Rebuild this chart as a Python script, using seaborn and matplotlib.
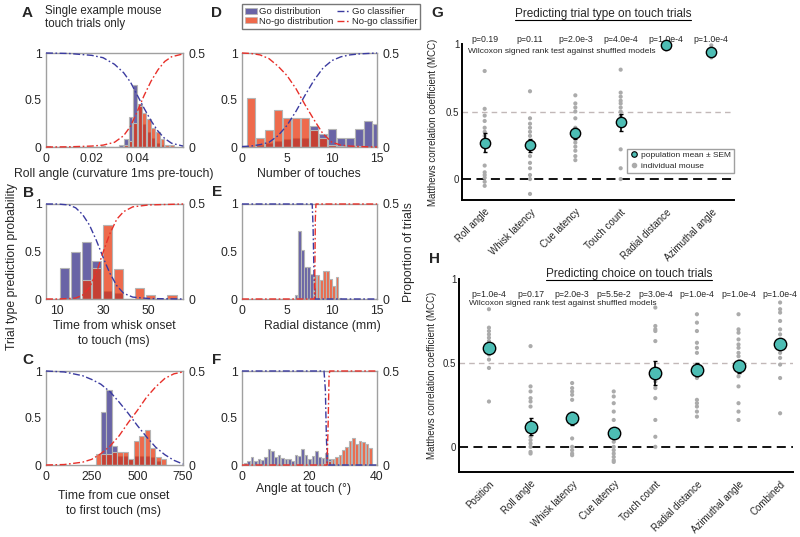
import numpy as np
import pandas as pd
import matplotlib
matplotlib.use("Agg")
import matplotlib.pyplot as plt
import seaborn as sns
from matplotlib.lines import Line2D
from matplotlib.patches import Patch

# ---------------- data ----------------
# Panel A: roll angle
A_centers = [0.001, 0.003, 0.005, 0.007, 0.009, 0.011, 0.013, 0.015, 0.017, 0.019, 0.021, 0.023,
             0.025, 0.027, 0.029, 0.031, 0.033, 0.035, 0.037, 0.039, 0.041, 0.043, 0.045, 0.047,
             0.049, 0.051, 0.053, 0.055]
A_go = [0, 0, 0, 0, 0, 0, 0, 0, 0, 0, 0, 0,
        0.005, 0, 0, 0, 0.01, 0.04, 0.16, 0.33, 0.23, 0.12, 0.08, 0.05,
        0.02, 0.01, 0, 0]
A_nogo = [0.005, 0, 0, 0, 0, 0, 0, 0, 0, 0, 0, 0,
          0, 0, 0, 0, 0, 0.01, 0.03, 0.13, 0.22, 0.18, 0.15, 0.10,
          0.08, 0.04, 0.01, 0.01]
A_curve_x = [0, 0.01, 0.02, 0.025, 0.03, 0.034, 0.037, 0.040, 0.043, 0.046, 0.049, 0.052, 0.055, 0.06]
A_go_prob = [1.0, 0.995, 0.975, 0.95, 0.88, 0.79, 0.69, 0.55, 0.41, 0.28, 0.17, 0.09, 0.04, 0.01]
A_nogo_prob = [0.0, 0.002, 0.01, 0.02, 0.05, 0.12, 0.22, 0.38, 0.55, 0.70, 0.82, 0.91, 0.96, 0.99]

# Panel B: whisk latency
B_centers = [13.2, 17.9, 22.6, 27.3, 32.0, 36.7, 41.4, 46.1, 50.8, 55.5, 60.2]
B_go = [0.165, 0.25, 0.30, 0.20, 0.04, 0.03, 0, 0, 0, 0, 0]
B_nogo = [0, 0, 0.10, 0.165, 0.39, 0.16, 0, 0.06, 0.02, 0, 0.02]
B_curve_x = [5, 10, 15, 18, 21, 24, 27, 29, 31, 33, 36, 39, 43, 50, 65]
B_go_prob = [1.0, 1.0, 0.99, 0.96, 0.89, 0.78, 0.62, 0.50, 0.38, 0.27, 0.14, 0.06, 0.02, 0.005, 0.0]
B_nogo_prob = [0.0, 0.0, 0.005, 0.01, 0.04, 0.12, 0.27, 0.42, 0.56, 0.69, 0.84, 0.92, 0.97, 0.99, 1.0]

# Panel C: cue latency
C_centers = [285, 315, 345, 375, 405, 435, 465, 495, 525, 555, 585, 615, 645]
C_go = [0, 0.28, 0.40, 0.10, 0.05, 0.05, 0.03, 0.05, 0.05, 0.05, 0.04, 0.02, 0]
C_nogo = [0.06, 0.06, 0.06, 0.07, 0.07, 0.07, 0.03, 0.13, 0.155, 0.185, 0.09, 0.045, 0.03]
C_curve_x = [0, 100, 200, 250, 300, 350, 400, 450, 500, 550, 600, 650, 700, 750]
C_go_prob = [1.0, 0.99, 0.95, 0.91, 0.86, 0.78, 0.67, 0.55, 0.42, 0.30, 0.19, 0.11, 0.05, 0.01]
C_nogo_prob = [0.0, 0.005, 0.03, 0.06, 0.12, 0.20, 0.31, 0.45, 0.58, 0.72, 0.83, 0.92, 0.97, 0.99]

# Panel D: number of touches
D_centers = [1, 2, 3, 4, 5, 6, 7, 8, 9, 10, 11, 12, 13, 14, 15]
D_go = [0, 0.01, 0.02, 0.03, 0.045, 0.05, 0.05, 0.11, 0.07, 0.095, 0.05, 0.05, 0.095, 0.14, 0.12]
D_nogo = [0.26, 0.05, 0.09, 0.195, 0.155, 0.155, 0.155, 0.09, 0.05, 0.01, 0.005, 0, 0.005, 0, 0]
D_curve_x = [0, 1, 2, 3, 4, 5, 6, 7, 8, 9, 10, 11, 12, 13, 14, 15]
D_go_prob = [0.005, 0.01, 0.025, 0.05, 0.12, 0.23, 0.38, 0.55, 0.71, 0.84, 0.92, 0.96, 0.98, 0.99, 0.995, 1.0]
D_nogo_prob = [1.0, 0.995, 0.98, 0.94, 0.86, 0.76, 0.62, 0.45, 0.29, 0.14, 0.05, 0.02, 0.01, 0.005, 0.002, 0.0]

# Panel E: radial distance
E_centers = [6.0, 6.35, 6.7, 7.05, 7.4, 7.75, 8.1, 8.45, 8.8, 9.15, 9.5, 9.85, 10.2, 10.55, 10.9]
E_go = [0.02, 0.36, 0.26, 0.17, 0.17, 0.13, 0.06, 0, 0, 0, 0, 0, 0, 0, 0]
E_nogo = [0, 0, 0, 0, 0, 0, 0.125, 0.125, 0.10, 0.145, 0.148, 0.105, 0.07, 0.115, 0.005]
E_go_x = [0, 7.8, 7.9, 8.0, 8.1, 15]
E_go_prob = [1.0, 1.0, 0.75, 0.25, 0.0, 0.0]
E_nogo_x = [0, 8.05, 8.1, 8.15, 8.22, 15]
E_nogo_prob = [0.0, 0.0, 0.35, 0.85, 1.0, 1.0]

# Panel F: azimuthal angle at touch
F_centers = list(range(1, 41))
F_go = [0.01, 0.02, 0.04, 0.02, 0.03, 0.025, 0.045, 0.085, 0.075, 0.04,
        0.055, 0.035, 0.03, 0.03, 0.02, 0.055, 0.05, 0.085, 0.055, 0.03,
        0.05, 0.075, 0.045, 0.035, 0.065, 0.03, 0.01, 0, 0, 0,
        0, 0, 0, 0, 0, 0, 0, 0, 0, 0]
F_nogo = [0, 0, 0, 0, 0, 0, 0, 0, 0, 0,
          0, 0, 0, 0, 0, 0, 0, 0, 0, 0,
          0, 0, 0, 0.005, 0.01, 0.02, 0.03, 0.04, 0.055, 0.08,
          0.095, 0.13, 0.145, 0.11, 0.13, 0.12, 0.11, 0.09, 0, 0.007]
F_go_x = [0, 24.3, 24.7, 25.0, 25.3, 40]
F_go_prob = [1.0, 1.0, 0.8, 0.3, 0.0, 0.0]
F_nogo_x = [0, 25.2, 25.5, 25.8, 26.0, 40]
F_nogo_prob = [0.0, 0.0, 0.4, 0.95, 1.0, 1.0]

# Panel G: predicting trial type
G_features = ["Roll angle", "Whisk latency", "Cue latency", "Touch count",
              "Radial distance", "Azimuthal angle"]
G_mean = [0.27, 0.25, 0.34, 0.42, 0.99, 0.94]
G_sem = [0.07, 0.05, 0.04, 0.065, 0.01, 0.015]
G_pvals = ["p=0.19", "p=0.11", "p=2.0e-3", "p=4.0e-4", "p=1.0e-4", "p=1.0e-4"]
G_roll = [0.80, 0.52, 0.47, 0.43, 0.38, 0.35, 0.32, 0.28, 0.10, 0.05, 0.03, 0.01, -0.02, -0.05]
G_whisk = [0.65, 0.45, 0.41, 0.38, 0.35, 0.32, 0.28, 0.22, 0.17, 0.12, 0.08, 0.03, 0.0, -0.11]
G_cue = [0.62, 0.56, 0.53, 0.50, 0.45, 0.38, 0.34, 0.30, 0.27, 0.24, 0.21, 0.17, 0.14]
G_touch = [0.81, 0.64, 0.61, 0.58, 0.56, 0.53, 0.50, 0.47, 0.44, 0.22, 0.08, 0.0]
G_radial = [1.0, 0.99, 0.98, 0.97, 0.97, 0.96]
G_azim = [0.99, 0.97, 0.96, 0.95, 0.94, 0.93, 0.92, 0.91, 0.90]

# Panel H: predicting choice
H_features = ["Position", "Roll angle", "Whisk latency", "Cue latency", "Touch count",
              "Radial distance", "Azimuthal angle", "Combined"]
H_mean = [0.59, 0.12, 0.17, 0.08, 0.44, 0.46, 0.48, 0.61]
H_sem = [0.03, 0.05, 0.04, 0.03, 0.07, 0.04, 0.04, 0.03]
H_pvals = ["p=1.0e-4", "p=0.17", "p=2.0e-3", "p=5.5e-2", "p=3.0e-4", "p=1.0e-4", "p=1.0e-4", "p=1.0e-4"]
H_position = [0.82, 0.71, 0.69, 0.67, 0.65, 0.63, 0.61, 0.58, 0.55, 0.52, 0.47, 0.27]
H_roll = [0.60, 0.36, 0.33, 0.29, 0.27, 0.24, 0.06, 0.04, 0.02, 0.0, -0.03, -0.04]
H_whisk = [0.38, 0.35, 0.33, 0.31, 0.28, 0.05, 0.0, -0.02, -0.04, -0.05]
H_cue = [0.33, 0.30, 0.26, 0.21, 0.16, 0.03, 0.0, -0.02, -0.04, -0.06, -0.08, -0.09]
H_touch = [0.83, 0.72, 0.70, 0.69, 0.63, 0.39, 0.35, 0.29, 0.16, 0.06, 0.0]
H_radial = [0.79, 0.74, 0.69, 0.62, 0.59, 0.56, 0.41, 0.28, 0.26, 0.24, 0.21, 0.18]
H_azim = [0.79, 0.70, 0.68, 0.64, 0.61, 0.59, 0.56, 0.54, 0.50, 0.42, 0.36, 0.26, 0.21, 0.16]
H_combined = [0.86, 0.82, 0.80, 0.75, 0.70, 0.67, 0.56, 0.53, 0.49, 0.41, 0.20]

# ---------------- style ----------------
sns.set_theme(style="white")
plt.rcParams["font.family"] = ["Liberation Sans", "DejaVu Sans"]

GO_BAR = "#6964A6"
NOGO_BAR = "#E8330A"
NOGO_ALPHA = 0.73
GO_LINE = "#3B3BA0"
NOGO_LINE = "#E8302A"
BAR_EDGE = "#B5B5B5"
SPINE = "#A0A0A0"
TEAL = "#4DBDB4"
GRAY_PT = "#ABABAB"
DASHDOT = (0, (5, 1.8, 1.2, 1.8))
FS = 8.8

W, H = 800, 537
fig = plt.figure(figsize=(W / 100, H / 100), dpi=100)


def add_ax(x0, y0, x1, y1):
    return fig.add_axes([x0 / W, 1 - y1 / H, (x1 - x0) / W, (y1 - y0) / H])


def ftext(x, y, s, **kw):
    return fig.text(x / W, 1 - y / H, s, **kw)


def left_panel(box, centers, width, go_h, nogo_h, shrink, go_x, go_p, ng_x, ng_p,
               xlim, xticks, xticklabels):
    ax = add_ax(*box)
    ax2 = ax.twinx()
    lo = centers[0] - width / 2
    hi = centers[-1] + width / 2
    dist = pd.DataFrame({"value": centers, "go": go_h, "nogo": nogo_h})
    sns.histplot(data=dist, x="value", weights="go", binwidth=width, binrange=(lo, hi),
                 shrink=shrink, color=GO_BAR, alpha=1.0, edgecolor=BAR_EDGE,
                 linewidth=0.8, ax=ax)
    sns.histplot(data=dist, x="value", weights="nogo", binwidth=width, binrange=(lo, hi),
                 shrink=shrink, color=NOGO_BAR, alpha=NOGO_ALPHA, edgecolor=BAR_EDGE,
                 linewidth=0.8, ax=ax)
    sns.lineplot(x=go_x, y=go_p, color=GO_LINE, lw=1.0, linestyle=DASHDOT,
                 estimator=None, sort=False, clip_on=False, ax=ax2)
    sns.lineplot(x=ng_x, y=ng_p, color=NOGO_LINE, lw=1.0, linestyle=DASHDOT,
                 estimator=None, sort=False, clip_on=False, ax=ax2)
    ax.set_ylim(0, 0.5)
    ax2.set_ylim(0, 1)
    ax.set_xlim(*xlim)
    ax.yaxis.tick_right()
    ax.yaxis.set_label_position("right")
    ax2.yaxis.tick_left()
    ax2.yaxis.set_label_position("left")
    ax.set_yticks([0, 0.5])
    ax.set_yticklabels(["0", "0.5"])
    ax2.set_yticks([0, 0.5, 1])
    ax2.set_yticklabels(["0", "0.5", "1"])
    ax.set_xticks(xticks)
    ax.set_xticklabels(xticklabels)
    for a in (ax, ax2):
        a.set_xlabel("")
        a.set_ylabel("")
    ax.tick_params(axis="x", length=0, labelsize=FS, pad=4.5)
    ax.tick_params(axis="y", length=0, labelsize=FS, pad=4)
    ax2.tick_params(axis="y", length=0, labelsize=FS, pad=3)
    for s in ax.spines.values():
        s.set_color(SPINE)
        s.set_linewidth(1.0)
    for s in ax2.spines.values():
        s.set_visible(False)
    return ax


col1 = (46, 183)
col2 = (242, 377)
row1 = (53, 147)
row2 = (204, 299)
row3 = (371, 465)

left_panel((col1[0], row1[0], col1[1], row1[1]), A_centers, 0.002, A_go, A_nogo, 0.85,
           A_curve_x, A_go_prob, A_curve_x, A_nogo_prob,
           (0, 0.06), [0, 0.02, 0.04], ["0", "0.02", "0.04"])
left_panel((col1[0], row2[0], col1[1], row2[1]), B_centers, 4.7, B_go, B_nogo, 0.85,
           B_curve_x, B_go_prob, B_curve_x, B_nogo_prob,
           (5, 65), [10, 30, 50], ["10", "30", "50"])
left_panel((col1[0], row3[0], col1[1], row3[1]), C_centers, 30, C_go, C_nogo, 0.92,
           C_curve_x, C_go_prob, C_curve_x, C_nogo_prob,
           (0, 750), [0, 250, 500, 750], ["0", "250", "500", "750"])
left_panel((col2[0], row1[0], col2[1], row1[1]), D_centers, 1, D_go, D_nogo, 0.82,
           D_curve_x, D_go_prob, D_curve_x, D_nogo_prob,
           (0, 15), [0, 5, 10, 15], ["0", "5", "10", "15"])
left_panel((col2[0], row2[0], col2[1], row2[1]), E_centers, 0.35, E_go, E_nogo, 0.88,
           E_go_x, E_go_prob, E_nogo_x, E_nogo_prob,
           (0, 15), [0, 5, 10, 15], ["0", "5", "10", "15"])
left_panel((col2[0], row3[0], col2[1], row3[1]), F_centers, 1, F_go, F_nogo, 0.8,
           F_go_x, F_go_prob, F_nogo_x, F_nogo_prob,
           (0, 40), [0, 20, 40], ["0", "20", "40"])

# x labels of left panels
ftext(114, 174, "Roll angle (curvature 1ms pre-touch)", ha="center", va="center", fontsize=FS)
ftext(114, 326, "Time from whisk onset", ha="center", va="center", fontsize=FS)
ftext(114, 341, "to touch (ms)", ha="center", va="center", fontsize=FS)
ftext(114, 496, "Time from cue onset", ha="center", va="center", fontsize=FS)
ftext(114, 511, "to first touch (ms)", ha="center", va="center", fontsize=FS)
ftext(309, 174, "Number of touches", ha="center", va="center", fontsize=FS)
ftext(322, 326, "Radial distance (mm)", ha="center", va="center", fontsize=FS)
ftext(304, 489, "Angle at touch (°)", ha="center", va="center", fontsize=FS)
ftext(12, 267, "Trial type prediction probability", rotation=90, ha="center", va="center", fontsize=FS)
ftext(409, 252, "Proportion of trials", rotation=90, ha="center", va="center", fontsize=FS)
ftext(45, 11, "Single example mouse", ha="left", va="center", fontsize=8.3)
ftext(45, 24, "touch trials only", ha="left", va="center", fontsize=8.3)

for letter, (x, y) in {"A": (27, 13), "B": (28, 193), "C": (28, 360), "D": (217, 13),
                       "E": (217, 192), "F": (217, 360), "G": (437, 13), "H": (435, 259)}.items():
    ftext(x, y, letter, ha="center", va="center", fontsize=11, fontweight="bold")

# top legend
leg_handles = [Patch(facecolor=GO_BAR, edgecolor=BAR_EDGE, lw=0.6),
               Patch(facecolor=NOGO_BAR, alpha=NOGO_ALPHA, edgecolor=BAR_EDGE, lw=0.6),
               Line2D([], [], color=GO_LINE, lw=1.0, linestyle=DASHDOT),
               Line2D([], [], color=NOGO_LINE, lw=1.0, linestyle=DASHDOT)]
leg_labels = ["Go distribution", "No-go distribution", "Go classifier", "No-go classifier"]
fig.legend(leg_handles, leg_labels, ncol=2, loc="upper left", bbox_to_anchor=(242 / W, 1 - 4 / H),
           fontsize=6.8, frameon=True, fancybox=False, edgecolor="#555555", borderpad=0.3,
           handlelength=1.3, handleheight=0.6, columnspacing=0.35, handletextpad=0.25,
           labelspacing=0.1, borderaxespad=0)


def mcc_panel(box, features, mean, sem, indiv, pvals, xlim, ylim, p_y, wil_x, wil_y, ms):
    ax = add_ax(*box)
    rows = []
    for i, vals in enumerate(indiv):
        for v in vals:
            rows.append((i, v))
    df = pd.DataFrame(rows, columns=["pos", "mcc"])
    ax.axhline(0.5, color="#C2B8B8", ls=(0, (4, 3)), lw=1.0, zorder=1)
    ax.axhline(0, color="black", ls=(0, (5, 3)), lw=1.3, zorder=1)
    sns.scatterplot(data=df, x="pos", y="mcc", color=GRAY_PT, s=9, edgecolor="none",
                    ax=ax, zorder=3, clip_on=False)
    xpos = np.arange(len(features))
    ax.errorbar(xpos, mean, yerr=sem, fmt="none", ecolor="black", elinewidth=1.2,
                capsize=1.5, capthick=1.0, zorder=4, clip_on=False)
    sns.scatterplot(x=xpos, y=mean, color=TEAL, edgecolor="black", linewidth=1.0,
                    s=ms, ax=ax, zorder=5, clip_on=False)
    ax.set_xlim(*xlim)
    ax.set_ylim(*ylim)
    ax.set_xticks(xpos)
    ax.set_xticklabels(features, rotation=45, ha="right", rotation_mode="anchor", fontsize=7)
    ax.set_yticks([0, 0.5, 1])
    ax.set_yticklabels(["0", "0.5", "1"], fontsize=7)
    ax.set_xlabel("")
    ax.set_ylabel("Matthews correlation coefficient (MCC)", fontsize=7)
    ax.tick_params(axis="both", direction="in", length=3, width=1, color="black", pad=2)
    ax.tick_params(axis="x", pad=5)
    sns.despine(ax=ax)
    for s in ("left", "bottom"):
        ax.spines[s].set_color("black")
        ax.spines[s].set_linewidth(1.4)
    for i, p in enumerate(pvals):
        ax.text(i, p_y, p, transform=ax.get_xaxis_transform(), ha="center", va="center",
                fontsize=6.3)
    ax.text(wil_x, wil_y, "Wilcoxon signed rank test against shuffled models",
            transform=ax.transAxes, ha="left", va="center", fontsize=6)
    return ax


axG = mcc_panel((462, 44, 734, 200), G_features, G_mean, G_sem,
                [G_roll, G_whisk, G_cue, G_touch, G_radial, G_azim], G_pvals,
                (-0.5, 5.5), (-0.155, 1.0), 1.032, 0.022, 0.955, 55)
axG.yaxis.set_label_coords(-0.09, 0.5)
g_handles = [Line2D([], [], marker="o", ls="none", markerfacecolor=TEAL, markeredgecolor="black",
                    markersize=4, markeredgewidth=0.8),
             Line2D([], [], marker="o", ls="none", color=GRAY_PT, markersize=3)]
axG.legend(g_handles, ["population mean ± SEM", "individual mouse"], loc="upper right",
           bbox_to_anchor=(1.0, 0.33), fontsize=6, frameon=True, fancybox=False,
           edgecolor="#888888", borderpad=0.35, handletextpad=0.2, labelspacing=0.35,
           handlelength=1.2, borderaxespad=0)

axH = mcc_panel((459, 279, 793, 472), H_features, H_mean, H_sem,
                [H_position, H_roll, H_whisk, H_cue, H_touch, H_radial, H_azim, H_combined],
                H_pvals, (-0.72, 7.31), (-0.15, 1.0), 0.922, 0.03, 0.875, 80)
axH.yaxis.set_label_coords(-0.066, 0.5)


def underlined(x, y, s, fs):
    t = ftext(x, y, s, ha="center", va="center", fontsize=fs)
    fig.canvas.draw()
    bb = t.get_window_extent()
    fig.add_artist(Line2D([bb.x0 / W, bb.x1 / W], [(bb.y0 + 0.5) / H, (bb.y0 + 0.5) / H],
                          transform=fig.transFigure, color="black", lw=0.8))


underlined(603, 14, "Predicting trial type on touch trials", 8.5)
underlined(629, 274, "Predicting choice on touch trials", 8.5)

fig.savefig("out.png", dpi=100)
